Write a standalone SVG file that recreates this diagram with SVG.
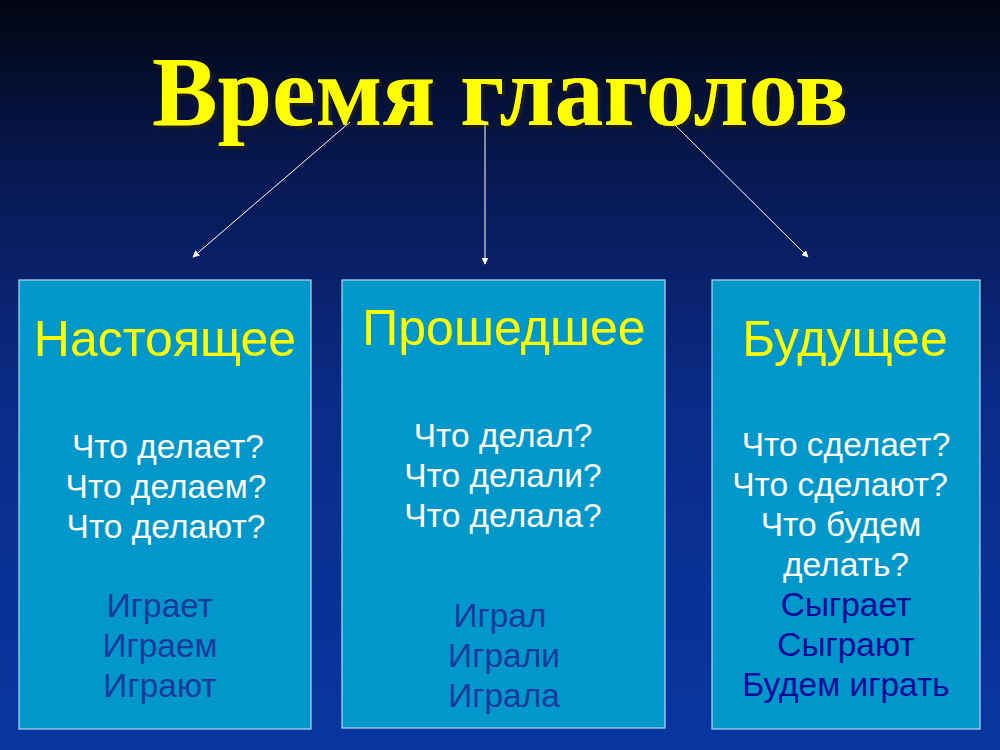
<svg xmlns="http://www.w3.org/2000/svg" width="1000" height="750" viewBox="0 0 1000 750">
<defs>
<linearGradient id="bg" x1="0" y1="0" x2="0" y2="1">
<stop offset="0" stop-color="#010510"/>
<stop offset="0.22" stop-color="#071850"/>
<stop offset="0.55" stop-color="#0b2c8a"/>
<stop offset="1" stop-color="#0836a0"/>
</linearGradient>
<filter id="shadow" x="-5%" y="-20%" width="110%" height="140%">
<feDropShadow dx="3" dy="3" stdDeviation="0.6" flood-color="#1a1a1a" flood-opacity="1"/>
</filter>
<marker id="ah" viewBox="0 0 10 10" refX="9" refY="5" markerWidth="7" markerHeight="7" markerUnits="userSpaceOnUse" orient="auto">
<path d="M0,0 L10,5 L0,10 Z" fill="#ffffff"/>
</marker>
</defs>
<style>
.box{fill:#0098cb;stroke:#b8d8f0;stroke-width:1.2}
.head{font-family:"Liberation Sans",Arial,sans-serif;font-size:50px;fill:#ffff00;text-anchor:middle}
.q{font-family:"Liberation Sans",Arial,sans-serif;font-size:33.5px;fill:#ffffff;text-anchor:middle}
.a{font-family:"Liberation Sans",Arial,sans-serif;font-size:33.5px;fill:#1a3a9a;text-anchor:middle}
.a2{font-family:"Liberation Sans",Arial,sans-serif;font-size:33.5px;fill:#000a99;text-anchor:middle}
.conn{stroke:#ffffff;stroke-width:1;fill:none;marker-end:url(#ah)}
.title{font-family:"Liberation Serif","Times New Roman",serif;font-weight:bold;font-size:100px;text-anchor:middle;fill:#ffff00;filter:url(#shadow)}
</style>
<rect width="1000" height="750" fill="url(#bg)"/>
<g id="title">
<text class="title" x="500" y="125" textLength="696" lengthAdjust="spacingAndGlyphs">Время глаголов</text>
</g>
<g id="connectors">
<line class="conn" x1="350" y1="122" x2="193" y2="257"/>
<line class="conn" x1="485" y1="122" x2="485" y2="264"/>
<line class="conn" x1="675" y1="125" x2="808" y2="257"/>
</g>
<g id="present">
<rect class="box" x="19" y="280" width="292" height="449"/>
<text class="head" x="165" y="356">Настоящее</text>
<text class="q" x="168" y="458">Что делает?</text>
<text class="q" x="166" y="498">Что делаем?</text>
<text class="q" x="166" y="538">Что делают?</text>
<text class="a" x="160" y="617">Играет</text>
<text class="a" x="160" y="657">Играем</text>
<text class="a" x="160" y="697">Играют</text>
</g>
<g id="past">
<rect class="box" x="342" y="280" width="323" height="448"/>
<text class="head" x="504" y="345">Прошедшее</text>
<text class="q" x="503" y="447">Что делал?</text>
<text class="q" x="503" y="487">Что делали?</text>
<text class="q" x="503" y="527">Что делала?</text>
<text class="a" x="500" y="627">Играл</text>
<text class="a" x="504" y="667">Играли</text>
<text class="a" x="504" y="707">Играла</text>
</g>
<g id="future">
<rect class="box" x="712" y="280" width="268" height="449"/>
<text class="head" x="845" y="356">Будущее</text>
<text class="q" x="846" y="456">Что сделает?</text>
<text class="q" x="840" y="496">Что сделают?</text>
<text class="q" x="841" y="536">Что будем</text>
<text class="q" x="846" y="576">делать?</text>
<text class="a2" x="846" y="616">Сыграет</text>
<text class="a2" x="846" y="656">Сыграют</text>
<text class="a2" x="846" y="696">Будем играть</text>
</g>
</svg>
